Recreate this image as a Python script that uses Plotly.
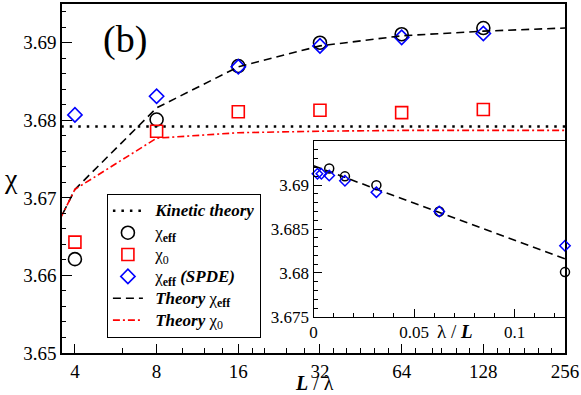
import plotly.graph_objs as go

# system size L / lambda
L_sim = [4, 8, 16, 32, 64, 128]
L_spde = [4, 8, 16, 32, 64, 128, 256]
L_theory = [2, 4, 8, 16, 32, 64, 128, 256]

chi_eff = [3.6621, 3.6801, 3.6870, 3.6900, 3.6911, 3.6919]
chi_0 = [3.6643, 3.6786, 3.6811, 3.6813, 3.6810, 3.6814]
chi_eff_spde = [3.6807, 3.6831, 3.6869, 3.6896, 3.6907, 3.6912, 3.6913]
theory_chi_eff = [3.6500, 3.6711, 3.6816, 3.6869, 3.6896, 3.6909, 3.6915, 3.6919]
theory_chi_0 = [3.6500, 3.6711, 3.6777, 3.6784, 3.6786, 3.6787, 3.6787, 3.6787]
kinetic = 3.6792

# inset: chi vs lambda / L
inv_L_sim = [1/128, 1/64, 1/32, 1/16, 1/8]
inset_chi_eff = [3.6919, 3.6910, 3.6900, 3.6870, 3.6801]
inv_L_spde = [1/512, 1/256, 1/128, 1/64, 1/32, 1/16, 1/8]
inset_chi_spde = [3.6913, 3.6913, 3.6911, 3.6905, 3.6892, 3.6870, 3.6831]
inv_L_theory = [0.0, 0.125]
inset_theory = [3.6922, 3.6816]

FONT = "Liberation Serif"
W, H = 581, 395
ML, MR, MT, MB = 62, 15, 2, 42


def px(x):
    return (x - ML) / (W - ML - MR)


def py(y):
    return (H - MB - y) / (H - MT - MB)


def leg(text):
    # bigger text than the legend line height so items stay tight
    return '&nbsp;&nbsp;<span style="font-size:17px">' + text + '</span>'


fig = go.Figure()

fig.add_trace(go.Scatter(x=L_theory, y=[kinetic] * len(L_theory), mode='lines',
                         name=leg('<b><i>Kinetic theory</i></b>'),
                         line=dict(color='black', width=2.5, dash='2.5px,6px')))
fig.add_trace(go.Scatter(x=L_sim, y=chi_eff, mode='markers', name=leg('χ<sub><b>eff</b></sub>'),
                         cliponaxis=False,
                         marker=dict(symbol='circle-open', size=13, color='black', line=dict(width=1.6))))
fig.add_trace(go.Scatter(x=L_sim, y=chi_0, mode='markers', name=leg('χ<sub>0</sub>'),
                         cliponaxis=False,
                         marker=dict(symbol='square-open', size=12, color='red', line=dict(width=1.6))))
fig.add_trace(go.Scatter(x=L_spde, y=chi_eff_spde, mode='markers',
                         name=leg('χ<sub><b>eff</b></sub> <b><i>(SPDE)</i></b>'), cliponaxis=False,
                         marker=dict(symbol='diamond-open', size=11, color='blue', line=dict(width=1.6))))
fig.add_trace(go.Scatter(x=L_theory, y=theory_chi_eff, mode='lines',
                         name=leg('<b><i>Theory</i></b> χ<sub><b>eff</b></sub>'),
                         line=dict(color='black', width=1.6, dash='8px,5px')))
fig.add_trace(go.Scatter(x=L_theory, y=theory_chi_0, mode='lines',
                         name=leg('<b><i>Theory</i></b> χ<sub>0</sub>'),
                         line=dict(color='red', width=1.6, dash='7px,3px,2px,3px')))

# inset traces
fig.add_trace(go.Scatter(x=inv_L_theory, y=inset_theory, mode='lines', xaxis='x2', yaxis='y2',
                         showlegend=False, line=dict(color='black', width=1.6, dash='8px,5px')))
fig.add_trace(go.Scatter(x=inv_L_sim, y=inset_chi_eff, mode='markers', xaxis='x2', yaxis='y2',
                         showlegend=False, cliponaxis=False,
                         marker=dict(symbol='circle-open', size=9, color='black', line=dict(width=1.5))))
fig.add_trace(go.Scatter(x=inv_L_spde, y=inset_chi_spde, mode='markers', xaxis='x2', yaxis='y2',
                         showlegend=False, cliponaxis=False,
                         marker=dict(symbol='diamond-open', size=8, color='blue', line=dict(width=1.5))))

major_x = [4, 8, 16, 32, 64, 128, 256]
minor_x = [6, 10, 12, 14, 18, 20, 24, 28, 36, 40, 45, 51, 57, 72, 83, 90, 102, 114,
           144, 160, 181, 204, 228]

fig.update_layout(
    width=W, height=H,
    margin=dict(l=ML, r=MR, t=MT, b=MB),
    paper_bgcolor='white', plot_bgcolor='white',
    font=dict(family=FONT, color='black', size=18),
    xaxis=dict(type='log', range=[0.5544, 2.4082], tickvals=major_x, ticktext=[str(v) for v in major_x],
               ticks='inside', ticklen=9, tickwidth=1.2, tickcolor='black',
               minor=dict(tickvals=minor_x, ticks='inside', ticklen=5, tickcolor='black'),
               showline=True, linecolor='black', linewidth=1.5, mirror=True,
               showgrid=False, zeroline=False, tickfont=dict(size=19)),
    yaxis=dict(range=[3.65, 3.695], tickvals=[3.65, 3.66, 3.67, 3.68, 3.69],
               ticktext=['3.65', '3.66', '3.67', '3.68', '3.69'],
               ticks='inside', ticklen=10, tickwidth=1.2, tickcolor='black',
               minor=dict(dtick=0.002, ticks='inside', ticklen=4, tickcolor='black'),
               showline=True, linecolor='black', linewidth=1.5, mirror=True,
               showgrid=False, zeroline=False, tickfont=dict(size=19)),
    xaxis2=dict(domain=[px(314), 1.0], anchor='y2', range=[0, 0.125],
                tickvals=[0, 0.05, 0.1], ticktext=['0', '0.05', '0.1'],
                ticks='inside', ticklen=8, tickwidth=1.2, tickcolor='black',
                minor=dict(dtick=0.01, ticks='inside', ticklen=4, tickcolor='black'),
                showline=True, linecolor='black', linewidth=1.2, mirror=True,
                showgrid=False, zeroline=False, tickfont=dict(size=17)),
    yaxis2=dict(domain=[py(316.7), py(140)], anchor='x2', range=[3.675, 3.695],
                tickvals=[3.675, 3.68, 3.685, 3.69], ticktext=['3.675', '3.68', '3.685', '3.69'],
                ticks='inside', ticklen=8, tickwidth=1.2, tickcolor='black',
                minor=dict(dtick=0.001, ticks='inside', ticklen=4, tickcolor='black'),
                showline=True, linecolor='black', linewidth=1.2, mirror=True,
                showgrid=False, zeroline=False, tickfont=dict(size=17)),
    legend=dict(x=px(107), y=py(193), xanchor='left', yanchor='top',
                bgcolor='white', bordercolor='black', borderwidth=1,
                font=dict(family=FONT, size=14.5, color='black'), tracegroupgap=0),
    showlegend=True,
)

# panel label and axis titles
def label(text, x, y, size):
    fig.add_annotation(text=text, xref='paper', yref='paper', x=px(x), y=py(y),
                       xanchor='center', yanchor='middle', showarrow=False,
                       font=dict(size=size, family=FONT))


label('(b)', 125, 38, 38)
label('<b><i>L</i></b> / λ', 315, 383, 20)
label('χ', 11, 177, 28)
label('λ / <b><i>L</i></b>', 456, 331, 19)

fig.write_html("out.html", config={'displayModeBar': False},
               post_script="document.body.style.margin='0px';")
